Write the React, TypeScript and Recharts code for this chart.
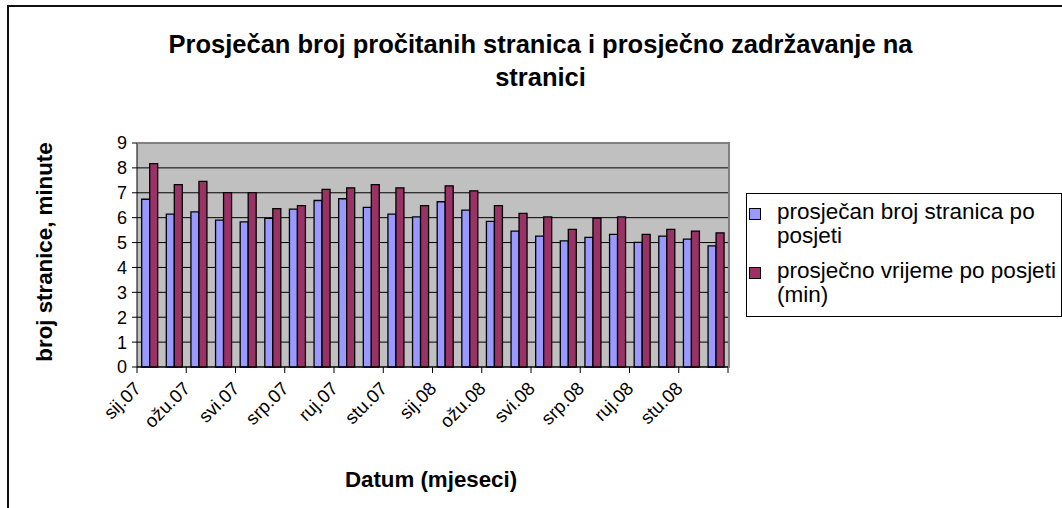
import { BarChart, Bar, XAxis, YAxis, CartesianGrid, Text } from 'recharts';

// mjeseci (24 kategorije, oznake se prikazuju svaka druga)
const months = [
  'sij.07', 'velj.07', 'ožu.07', 'tra.07', 'svi.07', 'lip.07',
  'srp.07', 'kol.07', 'ruj.07', 'lis.07', 'stu.07', 'pro.07',
  'sij.08', 'velj.08', 'ožu.08', 'tra.08', 'svi.08', 'lip.08',
  'srp.08', 'kol.08', 'ruj.08', 'lis.08', 'stu.08', 'pro.08',
];

const pagesPerVisit = [
  6.74, 6.14, 6.23, 5.9, 5.83, 5.97, 6.34, 6.69, 6.76, 6.41, 6.14, 6.03,
  6.64, 6.3, 5.85, 5.46, 5.26, 5.07, 5.21, 5.33, 5.01, 5.26, 5.14, 4.87,
];

const minutesPerVisit = [
  8.17, 7.33, 7.46, 7.01, 7.01, 6.36, 6.48, 7.14, 7.2, 7.33, 7.2, 6.48,
  7.28, 7.08, 6.48, 6.17, 6.03, 5.53, 5.98, 6.03, 5.33, 5.53, 5.46, 5.39,
];

const yTicks = [0, 1, 2, 3, 4, 5, 6, 7, 8, 9];

const seriesNames = ['prosječan broj stranica po posjeti', 'prosječno vrijeme po posjeti (min)'];

const data = months.map((m, i) => ({
  month: m,
  pages: pagesPerVisit[i],
  minutes: minutesPerVisit[i],
}));

const FONT = '"Liberation Sans", Arial, sans-serif';

// plot area
const PLOT_LEFT = 137;
const PLOT_RIGHT = 728;
const PLOT_TOP = 143;
const PLOT_BOTTOM = 367;
const BAND = (PLOT_RIGHT - PLOT_LEFT) / months.length;
const Y_AXIS_W = 60;
const X_AXIS_H = 60;

const renderMonthTick = (props: any) => {
  const { x, payload } = props;
  const left = x - BAND / 2;
  const isLast = payload.index === months.length - 2;
  return (
    <g key={`mt-${payload.index}`}>
      <line x1={left} y1={PLOT_BOTTOM} x2={left} y2={PLOT_BOTTOM + 6} stroke="#000" />
      {isLast && (
        <line x1={left + 2 * BAND} y1={PLOT_BOTTOM} x2={left + 2 * BAND} y2={PLOT_BOTTOM + 6} stroke="#000" />
      )}
      <Text
        x={x - 12}
        y={PLOT_BOTTOM + 18}
        angle={-45}
        textAnchor="end"
        verticalAnchor="middle"
        fontSize={18.5}
        fontFamily={FONT}
        fill="#000"
      >
        {payload.value}
      </Text>
    </g>
  );
};

const colors = ['#9999FF', '#993366'];

export default function App() {
  return (
    <div style={{ position: 'relative', width: 1062, height: 508, overflow: 'hidden', background: '#fff', fontFamily: FONT }}>
      <style>{'body{margin:0}'}</style>

      {/* okvir grafikona */}
      <div style={{ position: 'absolute', left: 7, top: 5, width: 1100, height: 600, border: '2px solid #111' }} />

      {/* naslov */}
      <div style={{ position: 'absolute', left: 0, width: 1081, top: 28, textAlign: 'center', fontWeight: 'bold', fontSize: 25.5, lineHeight: '33px' }}>
        Prosječan broj pročitanih stranica i prosječno zadržavanje na
        <br />
        stranici
      </div>

      <BarChart
        width={1062}
        height={508}
        data={data}
        margin={{
          top: PLOT_TOP,
          right: 1062 - PLOT_RIGHT,
          bottom: 508 - PLOT_BOTTOM - X_AXIS_H,
          left: PLOT_LEFT - Y_AXIS_W,
        }}
        barGap={0}
        barCategoryGap="19%"
        style={{ position: 'absolute', left: 0, top: 0 }}
      >
        <CartesianGrid vertical={false} fill="#C0C0C0" stroke="#000" strokeOpacity={1} />
        <XAxis
          dataKey="month"
          height={X_AXIS_H}
          interval={1}
          tickLine={false}
          axisLine={{ stroke: '#000' }}
          tick={renderMonthTick}
        />
        <YAxis
          width={Y_AXIS_W}
          domain={[0, 9]}
          ticks={yTicks}
          interval={0}
          tickSize={5}
          tickMargin={5}
          axisLine={{ stroke: '#000' }}
          tickLine={{ stroke: '#000' }}
          tick={{ fill: '#000', fontSize: 18, fontFamily: FONT }}
        />
        <Bar dataKey="pages" name={seriesNames[0]} fill={colors[0]} stroke="#000" strokeWidth={1.3} isAnimationActive={false} />
        <Bar dataKey="minutes" name={seriesNames[1]} fill={colors[1]} stroke="#000" strokeWidth={1.3} isAnimationActive={false} />
      </BarChart>

      {/* sivi rub područja crtanja (gore i desno) */}
      <div
        style={{
          position: 'absolute',
          left: PLOT_LEFT,
          top: PLOT_TOP - 1,
          width: PLOT_RIGHT - PLOT_LEFT,
          height: PLOT_BOTTOM - PLOT_TOP,
          borderTop: '2px solid #808080',
          borderRight: '2px solid #808080',
          pointerEvents: 'none',
        }}
      />

      {/* naziv osi y */}
      <div
        style={{
          position: 'absolute',
          left: 45,
          top: 252,
          transform: 'translate(-50%,-50%) rotate(-90deg)',
          whiteSpace: 'nowrap',
          fontWeight: 'bold',
          fontSize: 22.3,
        }}
      >
        broj stranice, minute
      </div>

      {/* naziv osi x */}
      <div
        style={{
          position: 'absolute',
          left: 431,
          top: 480,
          transform: 'translate(-50%,-50%)',
          whiteSpace: 'nowrap',
          fontWeight: 'bold',
          fontSize: 22.3,
        }}
      >
        Datum (mjeseci)
      </div>

      {/* legenda */}
      <div
        style={{
          position: 'absolute',
          left: 746,
          top: 193,
          width: 316,
          height: 124,
          border: '1px solid #000',
          background: '#fff',
          boxSizing: 'border-box',
        }}
      >
        {seriesNames.map((name, i) => {
          const words = name.split(' ');
          const line1 = words.slice(0, 4).join(' ');
          const line2 = words.slice(4).join(' ');
          return (
            <div key={i} style={{ position: 'absolute', left: 0, top: 6 + i * 59, fontSize: 22.5, lineHeight: '24px' }}>
              <div
                style={{
                  position: 'absolute',
                  left: 2,
                  top: 8,
                  width: 10,
                  height: 10,
                  background: colors[i],
                  border: '1px solid #000',
                }}
              />
              <div style={{ marginLeft: 30, whiteSpace: 'nowrap' }}>{line1}</div>
              <div style={{ marginLeft: 30, whiteSpace: 'nowrap' }}>{line2}</div>
            </div>
          );
        })}
      </div>
    </div>
  );
}
